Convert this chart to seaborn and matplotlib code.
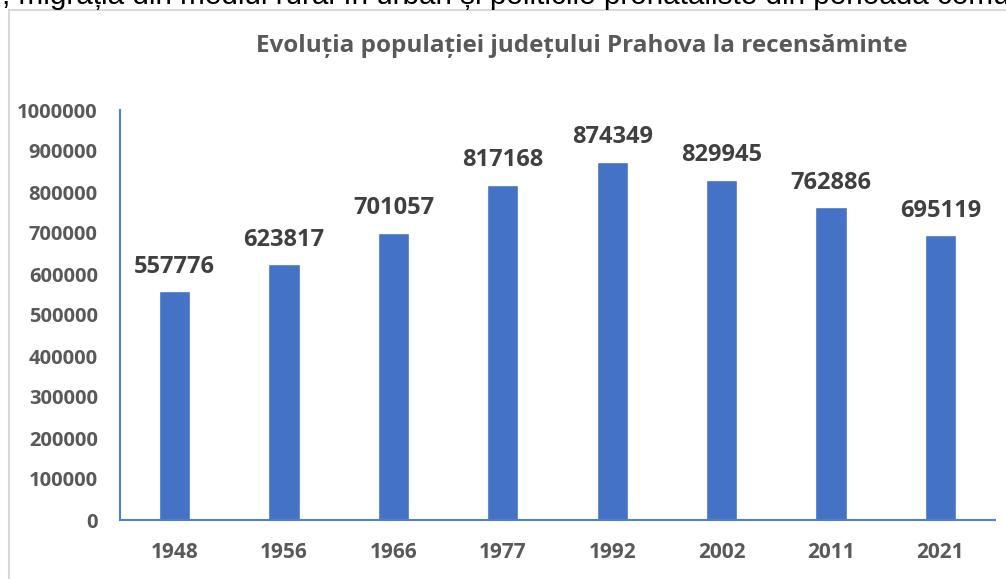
import matplotlib
matplotlib.use("Agg")
import matplotlib.pyplot as plt
import seaborn as sns
import pandas as pd
from matplotlib.lines import Line2D

# Data
years = ["1948", "1956", "1966", "1977", "1992", "2002", "2011", "2021"]
population = [557776, 623817, 701057, 817168, 874349, 829945, 762886, 695119]
y_ticks = [0, 100000, 200000, 300000, 400000, 500000, 600000, 700000, 800000, 900000, 1000000]

title = "Evoluția populației județului Prahova la recensăminte"
doc_line = ", migrația din mediul rural în urban și politicile pronataliste din perioada comunistă"

sns.set_theme(style="white")
plt.rcParams["font.family"] = ["Open Sans", "DejaVu Sans"]

df = pd.DataFrame({"an": years, "populatie": population})

W, H = 1006, 579
fig = plt.figure(figsize=(W / 100, H / 100), dpi=100)
ax = fig.add_axes([120 / W, 1 - 520 / H, (995 - 120) / W, (520 - 110) / H])

sns.barplot(data=df, x="an", y="populatie", color="#4472C4", saturation=1,
            width=0.285, ax=ax)

ax.set_ylim(0, 1000000)
ax.set_yticks(y_ticks)
ax.set_yticklabels([str(v) for v in y_ticks])
ax.set_xlabel("")
ax.set_ylabel("")
ax.tick_params(axis="y", length=0, pad=16, labelsize=14.5, labelcolor="#595959")
ax.tick_params(axis="x", length=0, pad=16, labelsize=15, labelcolor="#595959")
for lab in ax.get_xticklabels() + ax.get_yticklabels():
    lab.set_fontweight("bold")

for side in ["top", "right"]:
    ax.spines[side].set_visible(False)
for side in ["left", "bottom"]:
    ax.spines[side].set_color("#4F7FD0")
    ax.spines[side].set_linewidth(1.5)

ax.bar_label(ax.containers[0], labels=[str(v) for v in population], padding=9,
             fontsize=17, fontweight="bold", color="#404040")

fig.text(582 / W, 1 - 46 / H, title, ha="center", va="center",
         fontsize=17.5, fontweight="bold", color="#595959")

# chart frame border (only left and top are visible in the crop)
fig.add_artist(Line2D([9 / W, 9 / W], [0, 1 - 10 / H], color="#d9d9d9", lw=1.5))
fig.add_artist(Line2D([9 / W, 1], [1 - 10 / H, 1 - 10 / H], color="#d9d9d9", lw=1.5))

# cropped line of document text above the chart
fig.text(2 / W, 1 - 4 / H, doc_line, ha="left", va="baseline",
         fontsize=21.3, color="black", family=["Liberation Sans", "DejaVu Sans"])

fig.savefig("out.png", dpi=100)
